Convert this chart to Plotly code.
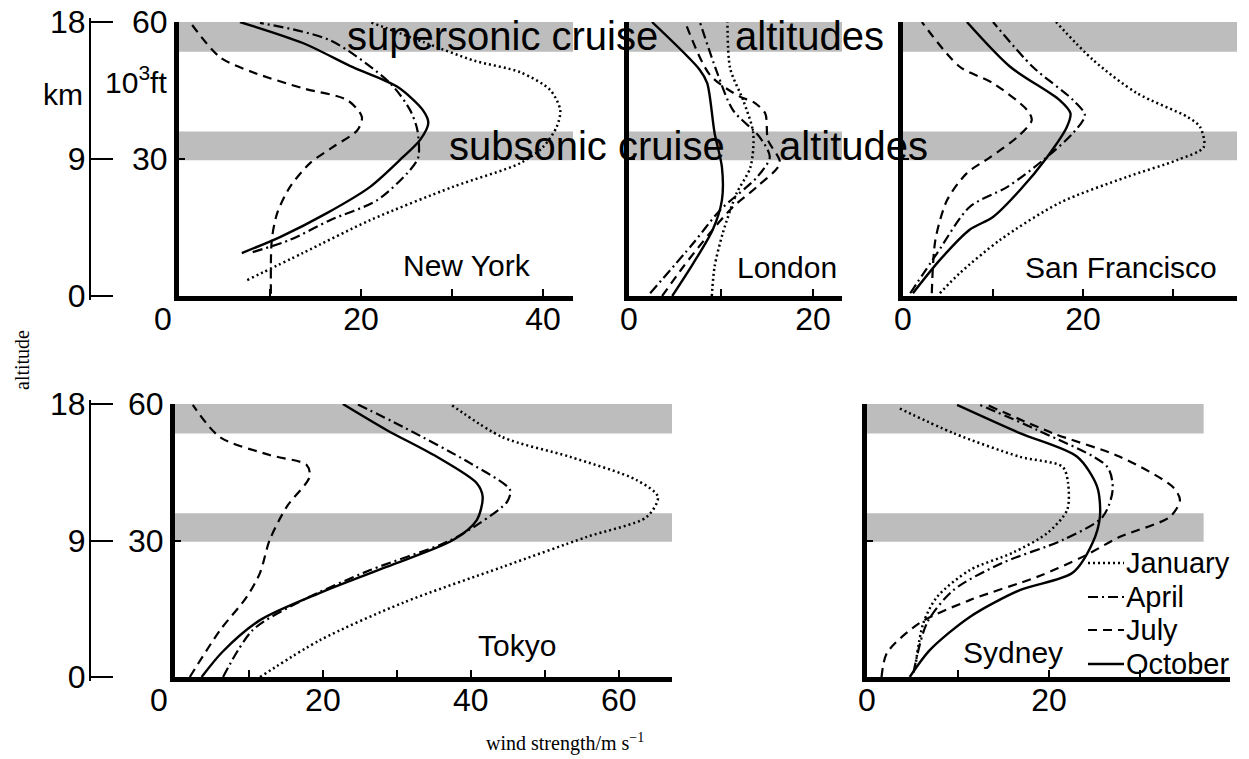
import plotly.graph_objects as go

W, H = 1249, 759
FONT = "Liberation Sans, Arial, Helvetica, sans-serif"
SERIF = "Liberation Serif, Times New Roman, serif"

MONTHS = ["January", "April", "July", "October"]
BANDS = {"supersonic": (53.5, 60.0), "subsonic": (29.7, 36.0)}

# ---------------- data: wind strength (m/s) vs altitude (10^3 ft) ----------------
# New York
NY_JAN_WIND = [7.5, 13.6, 21.0, 30.1, 37.5, 40.0, 41.5, 41.9, 40.8, 37.5, 32.5, 27.0, 21.0]
NY_JAN_ALT = [3.5, 9.4, 16.6, 23.9, 29.1, 32.6, 37.0, 40.7, 45.1, 49.0, 51.5, 55.5, 60.0]
NY_APR_WIND = [8.1, 12.2, 16.6, 21.8, 25.4, 26.3, 26.2, 25.4, 23.2, 16.6, 8.9]
NY_APR_ALT = [9.6, 12.3, 16.6, 21.0, 27.6, 30.4, 36.3, 40.7, 46.6, 56.0, 59.8]
NY_JUL_WIND = [10.1, 10.2, 10.8, 12.2, 14.4, 16.9, 19.6, 20.1, 18.5, 13.6, 8.1, 4.5, 1.2]
NY_JUL_ALT = [0.5, 12.3, 18.2, 23.9, 29.1, 32.6, 36.3, 39.2, 42.9, 45.5, 49.0, 52.3, 60.0]
NY_OCT_WIND = [6.9, 11.1, 16.3, 21.0, 24.6, 26.5, 27.4, 26.8, 24.0, 19.1, 13.6, 6.7]
NY_OCT_ALT = [9.4, 12.9, 18.2, 23.9, 30.4, 34.2, 37.9, 40.7, 45.8, 50.1, 55.4, 60.0]

# London
LON_JAN_WIND = [9.0, 9.3, 10.2, 11.7, 13.2, 13.5, 12.4, 11.0, 10.7]
LON_JAN_ALT = [0.0, 6.4, 13.8, 22.5, 28.2, 35.7, 42.9, 49.8, 60.0]
LON_APR_WIND = [2.3, 7.0, 9.9, 13.9, 15.3, 14.2, 11.3, 9.6, 7.7]
LON_APR_ALT = [0.6, 11.6, 18.8, 26.0, 30.4, 34.8, 40.7, 48.8, 60.0]
LON_JUL_WIND = [3.6, 5.9, 8.8, 11.3, 13.9, 16.4, 15.1, 14.8, 13.5, 12.1, 8.8, 6.1]
LON_JUL_ALT = [0.0, 6.4, 13.8, 19.5, 23.9, 29.1, 34.2, 40.0, 42.5, 43.6, 48.4, 60.0]
LON_OCT_WIND = [4.7, 7.0, 9.1, 10.1, 10.1, 9.3, 8.5, 7.7, 2.5]
LON_OCT_ALT = [0.0, 7.2, 14.5, 21.0, 28.2, 35.7, 46.6, 49.5, 60.0]

# San Francisco
SF_JAN_WIND = [4.1, 6.3, 10.8, 17.4, 24.9, 30.5, 33.4, 33.0, 31.6, 26.0, 21.1, 17.0]
SF_JAN_ALT = [0.6, 5.0, 12.3, 20.4, 26.1, 29.8, 32.6, 37.0, 39.2, 44.4, 51.7, 60.0]
SF_APR_WIND = [0.8, 3.8, 7.4, 11.6, 15.6, 18.9, 20.2, 18.9, 14.4, 10.0]
SF_APR_ALT = [0.6, 9.4, 19.5, 23.9, 29.8, 35.7, 39.6, 42.9, 50.2, 60.0]
SF_JUL_WIND = [3.2, 3.6, 4.9, 7.1, 9.7, 12.7, 14.3, 13.8, 10.0, 6.3, 2.1]
SF_JUL_ALT = [0.6, 12.3, 21.0, 26.9, 30.4, 34.8, 38.5, 40.7, 46.6, 50.2, 60.0]
SF_OCT_WIND = [1.1, 4.1, 7.4, 10.0, 13.0, 16.0, 18.2, 18.6, 17.4, 11.9, 7.1]
SF_OCT_ALT = [0.6, 7.9, 14.5, 17.3, 23.2, 30.4, 37.0, 40.0, 42.9, 50.2, 60.0]

# Tokyo
TOK_JAN_WIND = [11.5, 19.6, 30.8, 44.3, 55.7, 63.8, 65.3, 62.4, 53.4, 44.3, 37.2]
TOK_JAN_ALT = [0.0, 8.1, 16.3, 24.2, 30.8, 35.2, 39.6, 43.3, 48.4, 52.7, 60.0]
TOK_APR_WIND = [6.5, 10.5, 17.3, 26.4, 36.8, 41.2, 44.9, 45.3, 39.9, 30.8, 24.6]
TOK_APR_ALT = [0.0, 10.3, 16.9, 23.5, 29.7, 33.8, 38.5, 41.1, 47.0, 55.0, 60.0]
TOK_JUL_WIND = [2.0, 6.1, 9.7, 11.5, 12.8, 15.1, 18.2, 17.8, 12.8, 6.1, 2.4]
TOK_JUL_ALT = [0.0, 10.3, 17.6, 22.9, 30.1, 37.4, 44.0, 46.6, 48.8, 52.7, 59.8]
TOK_OCT_WIND = [3.6, 6.4, 11.5, 19.6, 28.6, 37.6, 40.8, 41.6, 40.8, 35.4, 28.6, 22.7]
TOK_OCT_ALT = [0.0, 5.5, 12.5, 18.5, 24.2, 30.1, 34.5, 39.6, 42.6, 48.4, 54.3, 60.0]

# Sydney
SYD_JAN_WIND = [5.3, 6.2, 7.7, 11.3, 16.0, 19.8, 22.0, 22.1, 21.5, 16.8, 9.5, 3.3]
SYD_JAN_ALT = [2.2, 11.9, 17.6, 23.5, 27.3, 31.6, 36.7, 42.6, 46.2, 48.4, 53.6, 59.3]
SYD_APR_WIND = [5.1, 6.6, 9.5, 14.9, 21.5, 25.9, 27.0, 26.4, 18.7, 12.4]
SYD_APR_ALT = [0.9, 11.9, 19.1, 25.1, 30.1, 35.2, 41.1, 46.2, 54.3, 59.8]
SYD_JUL_WIND = [1.6, 2.2, 5.8, 11.3, 18.7, 23.7, 27.8, 33.3, 34.4, 33.6, 27.8, 20.4, 13.2]
SYD_JUL_ALT = [0.0, 5.3, 11.9, 16.9, 22.0, 26.4, 30.8, 35.2, 38.9, 41.8, 48.4, 53.6, 59.8]
SYD_OCT_WIND = [4.7, 6.9, 11.3, 16.8, 22.6, 24.8, 25.6, 25.3, 23.1, 16.8, 9.9]
SYD_OCT_ALT = [0.0, 5.9, 13.2, 19.1, 22.9, 29.5, 35.2, 41.8, 48.4, 53.6, 59.8]

CITIES = ["New York", "London", "San Francisco", "Tokyo", "Sydney"]
CITY_DATA = {
    "New York": [(NY_JAN_WIND, NY_JAN_ALT), (NY_APR_WIND, NY_APR_ALT),
                 (NY_JUL_WIND, NY_JUL_ALT), (NY_OCT_WIND, NY_OCT_ALT)],
    "London": [(LON_JAN_WIND, LON_JAN_ALT), (LON_APR_WIND, LON_APR_ALT),
               (LON_JUL_WIND, LON_JUL_ALT), (LON_OCT_WIND, LON_OCT_ALT)],
    "San Francisco": [(SF_JAN_WIND, SF_JAN_ALT), (SF_APR_WIND, SF_APR_ALT),
                      (SF_JUL_WIND, SF_JUL_ALT), (SF_OCT_WIND, SF_OCT_ALT)],
    "Tokyo": [(TOK_JAN_WIND, TOK_JAN_ALT), (TOK_APR_WIND, TOK_APR_ALT),
              (TOK_JUL_WIND, TOK_JUL_ALT), (TOK_OCT_WIND, TOK_OCT_ALT)],
    "Sydney": [(SYD_JAN_WIND, SYD_JAN_ALT), (SYD_APR_WIND, SYD_APR_ALT),
               (SYD_JUL_WIND, SYD_JUL_ALT), (SYD_OCT_WIND, SYD_OCT_ALT)],
}
KM_TICKS = [0, 9, 18]

# ---------------- layout geometry (pixels) ----------------
# city: (axis id, left px, right px, top px, bottom px, x max, band end, labelled ticks)
PANELS = {
    "New York": ("", 179, 573, 22, 296, 43.3, 43.3, [0, 20, 40]),
    "London": ("2", 629, 842, 22, 296, 23.15, 23.15, [0, 20]),
    "San Francisco": ("3", 903, 1237, 22, 296, 37.1, 37.1, [0, 20]),
    "Tokyo": ("4", 175, 672, 404, 677, 67.2, 67.2, [0, 20, 40, 60]),
    "Sydney": ("5", 867, 1230, 404, 677, 39.9, 37.0, [0, 20]),
}
LABEL_POS = {"New York": (467, 265), "London": (787, 267), "San Francisco": (1121, 267),
             "Tokyo": (517, 645), "Sydney": (1013, 652)}
LEGEND_ROWS = {"January": 563, "April": 597, "July": 630, "October": 664}
BRACKET_X = 90
BRACKET_PAD = 4  # px of extra axis length so end ticks are not clipped

STYLE = {
    "January": dict(dash="2px,3px", width=2.5),
    "April": dict(dash="10px,4px,2px,4px", width=2.2),
    "July": dict(dash="9px,6px", width=2.2),
    "October": dict(dash="solid", width=2.4),
}


def pxx(p):
    return p / W


def pxy(p):
    return 1 - p / H


fig = go.Figure()
shapes = []
annotations = []
layout = {}

for city in CITIES:
    aid, l, r, t, b, xmax, bend, tvals = PANELS[city]
    xa, ya = "x" + aid, "y" + aid
    for month, (wind, alt) in zip(MONTHS, CITY_DATA[city]):
        st = STYLE[month]
        fig.add_trace(go.Scatter(
            x=wind, y=alt, mode="lines", xaxis=xa, yaxis=ya,
            line=dict(color="black", width=st["width"], dash=st["dash"], shape="spline", smoothing=0.8),
            name=month, showlegend=False, hoverinfo="skip"))
    for lo, hi in BANDS.values():
        shapes.append(dict(type="rect", xref=xa, yref=ya, x0=0, x1=bend, y0=lo, y1=hi,
                           fillcolor="#bdbdbd", line=dict(width=0), layer="below"))
    ttext = [("0\u2002\u2002" if city in ("New York", "Tokyo") else "0") if v == 0 else str(v)
             for v in tvals]
    layout["xaxis" + aid] = dict(
        domain=[pxx(l), pxx(r)], range=[0, xmax], anchor=ya, automargin=False,
        showline=True, linecolor="black", linewidth=5, showgrid=False, zeroline=False,
        ticks="inside", ticklen=7, tickwidth=2, tickcolor="black",
        tickvals=tvals, ticktext=ttext, ticklabelstandoff=-9,
        tickfont=dict(size=32, color="black", family=FONT),
        minor=dict(ticks="inside", dtick=10, tick0=0, ticklen=7, tickwidth=2,
                   tickcolor="black", showgrid=False),
        fixedrange=True)
    left_panel = city in ("New York", "Tokyo")
    layout["yaxis" + aid] = dict(
        domain=[pxy(b), pxy(t)], range=[0, 60], anchor=xa, automargin=False,
        showline=True, linecolor="black", linewidth=5, showgrid=False, zeroline=False,
        ticks="inside", ticklen=6, tickwidth=2, tickcolor="black",
        tickvals=[30, 60], showticklabels=left_panel,
        tickfont=dict(size=32, color="black", family=FONT), fixedrange=True)
    lx, ly = LABEL_POS[city]
    annotations.append(dict(text=city, x=pxx(lx), y=pxy(ly), xref="paper", yref="paper",
                            showarrow=False, xanchor="center", yanchor="middle",
                            font=dict(size=30, color="black", family=FONT)))

# km bracket axes (own hidden x axis, slightly longer domain so end ticks show)
for aid, base in (("6", "New York"), ("7", "Tokyo")):
    _, _, _, t, b, _, _, _ = PANELS[base]
    km_per_px = (KM_TICKS[-1] - KM_TICKS[0]) / (b - t)
    pad_km = BRACKET_PAD * km_per_px
    layout["xaxis" + aid] = dict(domain=[0, pxx(BRACKET_X - 1)], range=[0, 1], visible=False,
                                 anchor="y" + aid, fixedrange=True)
    layout["yaxis" + aid] = dict(
        domain=[pxy(b + BRACKET_PAD), pxy(t - BRACKET_PAD)],
        range=[KM_TICKS[0] - pad_km, KM_TICKS[-1] + pad_km],
        anchor="free", position=pxx(BRACKET_X), side="left", automargin=False,
        showline=True, linecolor="black", linewidth=2, showgrid=False, zeroline=False,
        ticks="inside", ticklen=22, tickwidth=2, tickcolor="black",
        tickvals=KM_TICKS, ticktext=[str(v) for v in KM_TICKS], ticklabelstandoff=-3,
        tickfont=dict(size=32, color="black", family=FONT), fixedrange=True)
    fig.add_trace(go.Scatter(x=[0.5], y=[9], xaxis="x" + aid, yaxis="y" + aid, mode="markers",
                             marker=dict(opacity=0), showlegend=False, hoverinfo="skip"))

# cruise altitude labels
for txt, x, y in (("supersonic cruise", 345, 36), ("altitudes", 733, 36),
                  ("subsonic cruise", 447, 146), ("altitudes", 777, 146)):
    annotations.append(dict(text=txt, x=pxx(x), y=pxy(y), xref="paper", yref="paper",
                            showarrow=False, xanchor="left", yanchor="middle",
                            font=dict(size=40, color="black", family=FONT)))

# legend (Sydney panel): line keys + month names
for month in MONTHS:
    ry = LEGEND_ROWS[month]
    st = STYLE[month]
    shapes.append(dict(type="line", xref="paper", yref="paper", x0=pxx(1088), x1=pxx(1124),
                       y0=pxy(ry), y1=pxy(ry),
                       line=dict(color="black", width=st["width"], dash=st["dash"])))
    annotations.append(dict(text=month, x=pxx(1124), y=pxy(ry), xref="paper", yref="paper",
                            showarrow=False, xanchor="left", yanchor="middle",
                            font=dict(size=29, color="black", family=FONT)))

annotations += [
    dict(text="km", x=pxx(63), y=pxy(95), xref="paper", yref="paper", showarrow=False,
         xanchor="center", yanchor="middle", font=dict(size=30, color="black", family=FONT)),
    dict(text="10<sup>3</sup>ft", x=pxx(169), y=pxy(80), xref="paper", yref="paper",
         showarrow=False, xanchor="right", yanchor="middle",
         font=dict(size=30, color="black", family=FONT)),
    dict(text="altitude", x=pxx(22), y=pxy(360), xref="paper", yref="paper", showarrow=False,
         textangle=-90, xanchor="center", yanchor="middle",
         font=dict(size=20, color="black", family=SERIF)),
    dict(text="wind strength/m s<sup>\u22121</sup>", x=pxx(565), y=pxy(742), xref="paper",
         yref="paper", showarrow=False, xanchor="center", yanchor="middle",
         font=dict(size=20, color="black", family=SERIF)),
]

fig.update_layout(
    template="none",
    width=W, height=H, margin=dict(l=0, r=0, t=0, b=0, pad=0, autoexpand=False),
    paper_bgcolor="white", plot_bgcolor="white",
    shapes=shapes, annotations=annotations,
    showlegend=False,
    **layout,
)

fig.write_html("out.html")
